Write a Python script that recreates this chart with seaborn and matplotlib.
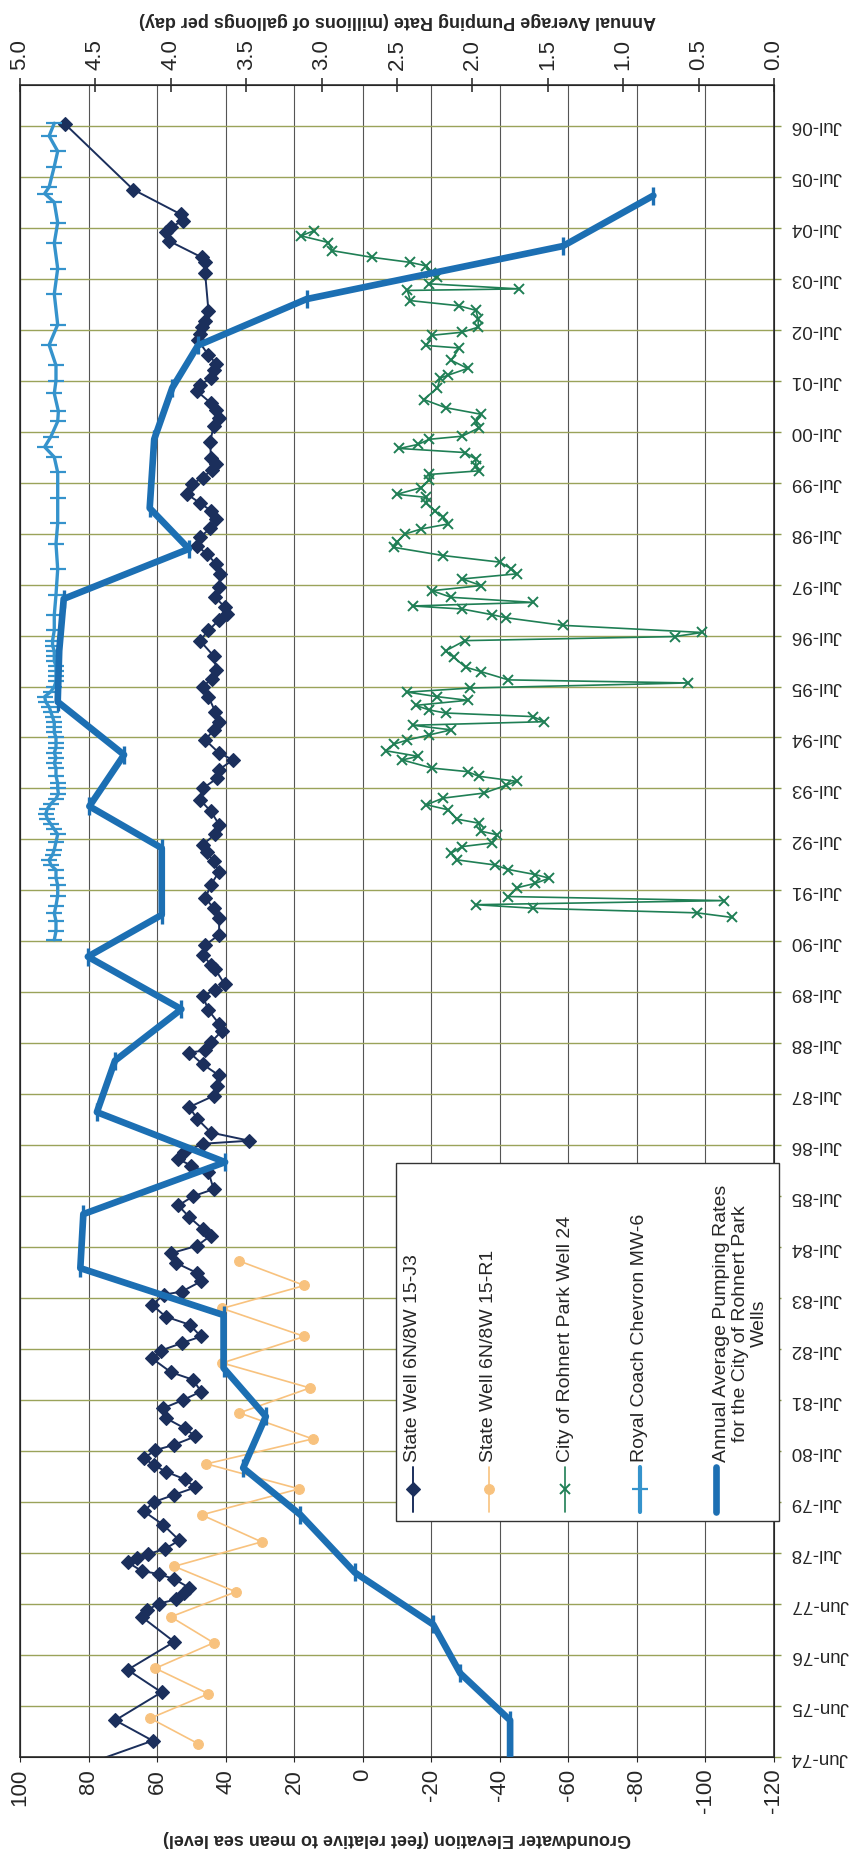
import numpy as np
import pandas as pd
import seaborn as sns
import matplotlib.pyplot as plt
from matplotlib.patches import Rectangle
from matplotlib.lines import Line2D

sns.set_style("white")
plt.rcParams['font.family'] = ['Liberation Sans', 'DejaVu Sans']
plt.rcParams['axes.unicode_minus'] = False

# time runs on the chart's own year scale: the Jun-74 gridline is 1974.5,
# every following gridline is one step further
tick_labels = ['Jun-74', 'Jun-75', 'Jun-76', 'Jun-77'] + ['Jul-%02d' % (y % 100) for y in range(1978, 2007)]
tick_years = 1974.5 + np.arange(len(tick_labels))

elev_ticks = list(range(100, -121, -20))
pump_ticks = [5.0, 4.5, 4.0, 3.5, 3.0, 2.5, 2.0, 1.5, 1.0, 0.5, 0.0]

# State Well 6N/8W 15-J3
j3_t = [1974.35, 1974.82, 1975.22, 1975.77, 1976.21, 1976.76, 1977.25, 1977.38, 1977.51, 1977.59,
        1977.72, 1977.82, 1977.99, 1978.09, 1978.15, 1978.32, 1978.40, 1978.48, 1978.58, 1978.75,
        1979.06, 1979.32, 1979.50, 1979.64, 1979.79, 1979.95, 1980.10, 1980.23, 1980.36, 1980.52,
        1980.62, 1980.79, 1980.95, 1981.15, 1981.34, 1981.50, 1981.67, 1981.90, 1982.05, 1982.32,
        1982.47, 1982.62, 1982.75, 1982.98, 1983.14, 1983.37, 1983.57, 1983.63, 1983.83, 1984.00,
        1984.19, 1984.38, 1984.53, 1984.73, 1984.86, 1985.09, 1985.32, 1985.50, 1985.64, 1985.97,
        1986.10, 1986.23, 1986.36, 1986.53, 1986.59, 1986.75, 1987.02, 1987.25, 1987.47, 1987.67,
        1987.87, 1988.09, 1988.32, 1988.36, 1988.52, 1988.75, 1988.88, 1989.15, 1989.43, 1989.55,
        1989.66, 1989.95, 1990.04, 1990.24, 1990.43, 1990.63, 1990.96, 1991.15, 1991.35, 1991.61,
        1991.87, 1992.07, 1992.25, 1992.40, 1992.60, 1992.79, 1993.05, 1993.28, 1993.50, 1993.70,
        1993.87, 1994.06, 1994.20, 1994.45, 1994.65, 1994.81, 1995.00, 1995.30, 1995.50, 1995.65,
        1995.83, 1996.10, 1996.40, 1996.60, 1996.80, 1996.93, 1997.06, 1997.25, 1997.45, 1997.70,
        1997.90, 1998.10, 1998.26, 1998.43, 1998.60, 1998.78, 1998.95, 1999.10, 1999.28, 1999.47,
        1999.60, 1999.75, 1999.86, 1999.99, 2000.30, 2000.61, 2000.77, 2000.93, 2001.06, 2001.29,
        2001.42, 2001.55, 2001.70, 2001.83, 2002.00, 2002.29, 2002.42, 2002.55, 2002.68, 2002.86,
        2003.62, 2003.83, 2003.92, 2004.24, 2004.42, 2004.52, 2004.63, 2004.76, 2005.25, 2006.53]
j3_elev = [81, 61.3, 72.2, 58.7, 68.6, 55, 64.5, 63, 59.4, 54.6,
           52.2, 50.6, 55, 59.5, 64.5, 68.6, 66, 62.6, 57.8, 53.5,
           58.3, 63.9, 61, 55.2, 48.8, 52, 57.5, 61, 63.9, 60.5,
           55.2, 48.8, 52, 57.5, 58.3, 52.5, 47.2, 49.5, 56, 61.5,
           59, 52.8, 47.2, 50.5, 57.5, 61.5, 58, 52.8, 47.2, 48.5,
           54.4, 56, 48.3, 44.3, 46.7, 50.6, 53.8, 49.5, 43.5, 45,
           50, 53.8, 52.2, 46.7, 33.1, 44.3, 48.3, 50.6, 43.5, 42.5,
           41.9, 46.7, 50.6, 46, 44.3, 41, 41.9, 45, 46.7, 43,
           40.3, 43, 44.3, 46.7, 45.9, 41.9, 41.9, 43.5, 45.9, 44.3,
           41.9, 43.5, 45.5, 46.7, 43, 41.9, 44.3, 47.5, 46.7, 42.5,
           41.9, 37.9, 42, 45.9, 43.5, 41.9, 43, 45, 46.7, 44,
           42.7, 43.5, 47.5, 45, 42, 39.5, 40.3, 43, 41.9, 41.6,
           42.7, 45.5, 48.3, 47.5, 44.5, 42.7, 44.3, 47.5, 51.4, 49.8,
           46.7, 44, 42.7, 44.3, 44.5, 43.5, 41.9, 42.7, 44.3, 48.3,
           47.5, 44.3, 43.5, 42.7, 45, 48, 47.5, 47, 45.9, 45,
           46, 45.9, 47, 56.5, 57.5, 55.9, 52.5, 53, 67, 86.8]

# State Well 6N/8W 15-R1
r1_t = [1974.76, 1975.26, 1975.74, 1976.24, 1976.74, 1977.25, 1977.74, 1978.24, 1978.72, 1979.25,
        1979.76, 1980.25, 1980.74, 1981.25, 1981.74, 1982.23, 1982.75, 1983.30, 1983.75, 1984.23]
r1_elev = [48, 62, 45, 60.5, 43.5, 56, 37, 55, 29.5, 47,
           18.6, 45.6, 14.6, 36, 15.4, 41, 17, 41, 17, 36]

# City of Rohnert Park Well 24
w24_t = [1990.97, 1991.06, 1991.15, 1991.22, 1991.30, 1991.38, 1991.55, 1991.64, 1991.74, 1991.81,
         1991.91, 1992.00, 1992.10, 1992.23, 1992.36, 1992.43, 1992.59, 1992.66, 1992.82, 1992.90,
         1993.08, 1993.18, 1993.31, 1993.41, 1993.56, 1993.64, 1993.74, 1993.83, 1993.90, 1994.06,
         1994.13, 1994.24, 1994.37, 1994.45, 1994.55, 1994.65, 1994.74, 1994.81, 1994.91, 1994.98,
         1995.04, 1995.13, 1995.23, 1995.30, 1995.39, 1995.47, 1995.57, 1995.63, 1995.79, 1995.88,
         1996.07, 1996.20, 1996.40, 1996.48, 1996.56, 1996.70, 1996.85, 1996.91, 1997.02, 1997.08,
         1997.15, 1997.25, 1997.38, 1997.48, 1997.61, 1997.71, 1997.81, 1997.94, 1998.07, 1998.23,
         1998.33, 1998.49, 1998.59, 1998.69, 1998.82, 1998.95, 1999.10, 1999.21, 1999.27, 1999.40,
         1999.55, 1999.66, 1999.73, 1999.83, 1999.96, 2000.09, 2000.17, 2000.25, 2000.35, 2000.41,
         2000.57, 2000.70, 2000.84, 2000.97, 2001.13, 2001.36, 2001.55, 2001.61, 2001.74, 2001.90,
         2002.14, 2002.19, 2002.39, 2002.45, 2002.55, 2002.71, 2002.88, 2002.97, 2003.07, 2003.27,
         2003.30, 2003.40, 2003.53, 2003.62, 2003.75, 2003.82, 2003.92, 2004.05, 2004.21, 2004.34,
         2004.44]
w24_elev = [-107.8, -97.5, -49.7, -33, -105.4, -42.5, -44.9, -50.4, -54.4, -50.4,
            -42.5, -38.5, -27.4, -25.8, -29, -37.7, -39.3, -34.6, -33.8, -27.4,
            -25, -18.6, -23.4, -35.4, -41.7, -44.9, -33.8, -30.6, -20.2, -11.5,
            -16.2, -6.7, -9.1, -13, -19.4, -25.8, -14.6, -52.9, -49.7, -24.2,
            -19.4, -15.4, -30.6, -21.8, -13, -31.4, -95, -42.5, -34.6, -30,
            -26.6, -24.2, -29.8, -91, -99, -58.4, -41.7, -37.7, -29, -14.6,
            -49.7, -25.8, -20.2, -34.6, -29, -44.9, -43.3, -40, -23.4, -9.1,
            -9.9, -12.3, -17, -25, -23.4, -21, -18.6, -18.6, -9.9, -17,
            -19.4, -19.4, -33.8, -33, -33, -29.8, -10.7, -16.2, -19.4, -29,
            -33.8, -33, -34.6, -24.2, -17.8, -21.8, -22.6, -25, -30.6, -25.8,
            -28.2, -18.6, -20.2, -29, -33.7, -33.7, -33, -28, -13.9, -13,
            -45.7, -19.4, -21.8, -20, -18.6, -13.9, -2.7, 8.9, 10, 18,
            14.3]

# Royal Coach Chevron MW-6
mw6_t = [1990.53, 1990.70, 1990.90, 1991.05, 1991.20, 1991.40, 1991.60, 1991.75, 1991.90, 1992.00,
         1992.10, 1992.20, 1992.30, 1992.45, 1992.60, 1992.70, 1992.80, 1992.90, 1993.00, 1993.10,
         1993.20, 1993.30, 1993.40, 1993.50, 1993.60, 1993.75, 1993.90, 1994.00, 1994.10, 1994.20,
         1994.30, 1994.40, 1994.50, 1994.60, 1994.70, 1994.80, 1994.90, 1995.00, 1995.10, 1995.20,
         1995.30, 1995.40, 1995.50, 1995.60, 1995.70, 1995.80, 1995.90, 1996.00, 1996.10, 1996.20,
         1996.30, 1996.40, 1996.60, 1996.90, 1997.30, 1997.80, 1998.30, 1998.70, 1999.20, 1999.70,
         2000.00, 2000.20, 2000.40, 2000.70, 2000.90, 2001.25, 2001.50, 2001.80, 2002.20, 2002.60,
         2003.20, 2003.70, 2004.20, 2004.60, 2005.00, 2005.17, 2005.30, 2005.70, 2006.00, 2006.30,
         2006.55]
mw6_elev = [90, 89.5, 89.5, 90, 89.5, 89, 89, 89.5, 89.5, 91,
            91.5, 90.5, 90, 89.5, 89, 90, 91, 92, 92.5, 92,
            91, 89.5, 88.8, 89, 89, 89.5, 89.5, 90, 89.5, 90,
            89.5, 89.5, 89.5, 90, 90, 90, 90.5, 91, 91.5, 92.5,
            92.8, 91, 90, 89.5, 89.5, 89.5, 89.5, 90, 90, 90,
            90.5, 90.5, 90, 90, 89.5, 89, 89.5, 89, 89, 89,
            90, 92.8, 91, 89, 88.8, 90, 89.5, 89.5, 91.5, 89,
            90, 89, 90, 89, 90, 92.8, 91.5, 90, 89, 91.5,
            90]

# Annual Average Pumping Rates (millions of gallons per day)
pump_t = [1974.20, 1975.22, 1976.14, 1977.10, 1978.12, 1979.25, 1980.17, 1981.18, 1982.13, 1983.17,
          1984.09, 1985.15, 1986.17, 1987.15, 1988.16, 1989.17, 1990.20, 1991.02, 1992.33, 1993.15,
          1994.16, 1995.20, 1996.20, 1997.22, 1998.20, 1999.00, 2000.35, 2001.36, 2002.19, 2003.10,
          2004.14, 2005.13]
pump_rate = [1.75, 1.75, 2.08, 2.26, 2.78, 3.14, 3.52, 3.37, 3.65, 3.65,
             4.60, 4.58, 3.64, 4.49, 4.37, 3.93, 4.55, 4.06, 4.06, 4.54,
             4.31, 4.75, 4.74, 4.71, 3.88, 4.14, 4.11, 3.99, 3.82, 3.10,
             1.40, 0.80]

navy = '#1b2f5c'
orange = '#f8c27e'
green = '#1f7f55'
light_blue = '#3593cc'
blue = '#1c6fb3'

j3_style = dict(color=navy, lw=1.4, marker='D', ms=7.5, mec=navy, mfc=navy, mew=0.8)
r1_style = dict(color=orange, lw=1.2, marker='o', ms=7, mec=orange, mfc=orange, mew=0.8)
w24_style = dict(color=green, lw=1.2, marker='x', ms=7.5, mec=green, mew=1.4)
mw6_style = dict(color=light_blue, lw=2.4, marker='_', ms=12, mec=light_blue, mew=1.6)
pump_style = dict(color=blue, lw=4.8, marker='|', ms=13, mec=blue, mew=2.4)

fig = plt.figure(figsize=(8.51, 18.51), dpi=100)
ax = fig.add_axes([20 / 851, 1 - 1757 / 1851, 754 / 851, 1672 / 1851])

series = [
    (r1_t, r1_elev, r1_style),
    (w24_t, w24_elev, w24_style),
    (j3_t, j3_elev, j3_style),
    (mw6_t, mw6_elev, mw6_style),
]
for t, e, style in series:
    df = pd.DataFrame({'elev': e, 'time': t})
    sns.lineplot(data=df, x='elev', y='time', orient='y', sort=False, estimator=None,
                 ax=ax, legend=False, **style)

ax.set_xlim(100, -120)
ax.set_ylim(1974.5, 2007.3)
ax.set_xticks(elev_ticks)
ax.set_xticklabels([str(v) for v in elev_ticks], rotation=90, fontsize=16)
ax.set_yticks(tick_years)
ax.set_yticklabels(tick_labels, rotation=180, fontsize=13.5, va='center')
ax.yaxis.tick_right()
ax.tick_params(axis='y', right=True, length=5, width=1.0, color='#8d9a4e', pad=7)
ax.tick_params(axis='x', bottom=False, pad=5)
ax.grid(axis='x', color='#555555', lw=0.8)
ax.grid(axis='y', color='#9aa35a', lw=1.0)
ax.set_ylabel('')
ax.set_xlabel('Groundwater Elevation (feet relative to mean sea level)',
              rotation=180, fontsize=13, fontweight='bold', labelpad=12)
for s in ax.spines.values():
    s.set_color('#333333')
    s.set_linewidth(1.2)

ax2 = ax.twiny()
pdf = pd.DataFrame({'rate': pump_rate, 'time': pump_t})
sns.lineplot(data=pdf, x='rate', y='time', orient='y', sort=False, estimator=None, ax=ax2,
             legend=False, **pump_style)
ax2.set_xlim(5, 0)
ax2.set_ylim(1974.5, 2007.3)
ax2.set_xticks(pump_ticks)
ax2.set_xticklabels(['%.1f' % v for v in pump_ticks], rotation=90, fontsize=16)
ax2.tick_params(axis='x', direction='inout', length=10, width=1.2, color='#333333', pad=6)
ax2.set_ylabel('')
ax2.set_xlabel('Annual Average Pumping Rate (millions of gallongs per day)',
               rotation=180, fontsize=13, fontweight='bold', labelpad=10)

# legend, drawn by hand because its text runs sideways
ax2.add_patch(Rectangle((0.499, 0.141), 0.508, 0.214, transform=ax2.transAxes,
                        facecolor='white', edgecolor='#333333', lw=1.0, zorder=10, clip_on=False))
entries = [
    (0.521, 0.521, 'State Well 6N/8W 15-J3', j3_style),
    (0.622, 0.622, 'State Well 6N/8W 15-R1', r1_style),
    (0.723, 0.723, 'City of Rohnert Park Well 24', w24_style),
    (0.822, 0.822, 'Royal Coach Chevron MW-6', dict(mw6_style, lw=3)),
    (0.923, 0.955, 'Annual Average Pumping Rates\nfor the City of Rohnert Park\nWells', pump_style),
]
for lx, tx, label, style in entries:
    line_style = {k: v for k, v in style.items() if k in ('color', 'lw')}
    ax2.add_line(Line2D([lx, lx], [0.1465, 0.1734], transform=ax2.transAxes, zorder=11,
                        clip_on=False, **line_style))
    ax2.add_line(Line2D([lx], [0.160], transform=ax2.transAxes, zorder=11, clip_on=False,
                        linestyle='none', **{k: v for k, v in style.items() if k not in ('lw',)}))
    ax2.text(tx, 0.1765, label, transform=ax2.transAxes, rotation=90, ha='center', va='bottom',
             fontsize=14, zorder=12, linespacing=1.15)

fig.savefig('out.png', dpi=100)
